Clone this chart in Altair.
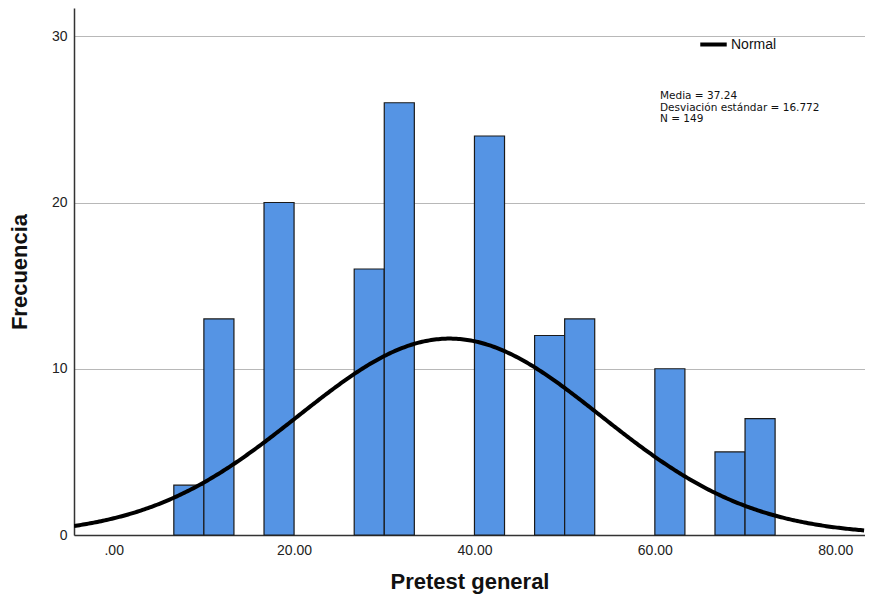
import altair as alt
import pandas as pd

# ---- data ----
bin_lo = [6.667, 10.0, 16.667, 26.667, 30.0, 40.0, 46.667, 50.0, 60.0, 66.667, 70.0]
bin_hi = [10.0, 13.333, 20.0, 30.0, 33.333, 43.333, 50.0, 53.333, 63.333, 70.0, 73.333]
counts = [3, 13, 20, 16, 26, 24, 12, 13, 10, 5, 7]

media = 37.24
desv = 16.772
n_total = 149
bin_width = 10 / 3

x_ticks = [0, 20, 40, 60, 80]
y_ticks = [0, 10, 20, 30]
x_domain = [-4.4, 83.3]
y_domain = [0, 31.7]

FONT = "Liberation Sans"

bars_df = pd.DataFrame({"lo": bin_lo, "hi": bin_hi, "count": counts})

x_scale = alt.Scale(domain=x_domain, nice=False, zero=False)
y_scale = alt.Scale(domain=y_domain, nice=False)

bars = alt.Chart(bars_df).mark_bar(
    color="#5594e4", stroke="#1a1a1a", strokeWidth=1.2, binSpacing=0
).encode(
    x=alt.X("lo:Q", scale=x_scale,
            axis=alt.Axis(values=x_ticks, title="Pretest general", ticks=False,
                          grid=False, labelPadding=8,
                          labelExpr="datum.value == 0 ? '.00' : format(datum.value, '.2f')",
                          titlePadding=14)),
    x2="hi:Q",
    y=alt.Y("count:Q", scale=y_scale,
            axis=alt.Axis(values=y_ticks, title="Frecuencia", ticks=False,
                          grid=True, labelPadding=7, titlePadding=20)),
    y2=alt.datum(0),
)

curve = alt.Chart(alt.sequence(x_domain[0], x_domain[1] + 0.1, 0.2, as_="x")).transform_calculate(
    y=f"{n_total} * {bin_width} / ({desv} * sqrt(2 * PI)) * exp(-0.5 * pow((datum.x - {media}) / {desv}, 2))",
    serie="'Normal'",
).mark_line(strokeWidth=4, clip=True).encode(
    x=alt.X("x:Q", scale=x_scale),
    y=alt.Y("y:Q", scale=y_scale),
    color=alt.Color("serie:N",
                    scale=alt.Scale(domain=["Normal"], range=["black"]),
                    legend=alt.Legend(title=None, orient="none", legendX=624, legendY=21,
                                      symbolType="stroke", symbolStrokeWidth=4,
                                      symbolSize=700, labelFont=FONT, labelFontSize=14,
                                      labelColor="#111", labelOffset=2, padding=0)),
)

stats_df = pd.DataFrame({"t": [f"Media = {media:.2f}\nDesviación estándar = {desv:.3f}\nN = {n_total}"]})
stats = alt.Chart(stats_df).mark_text(
    align="left", baseline="top", font="DejaVu Sans", fontSize=10.5, lineHeight=11.5,
    lineBreak="\n", color="#111"
).encode(x=alt.value(586), y=alt.value(83), text="t:N")

chart = alt.layer(bars, curve, stats).properties(
    width=791, height=527, padding={"left": 0, "top": 0, "right": 0, "bottom": 5}
).configure_view(stroke=None).configure_axis(
    labelFont=FONT, labelFontSize=14, labelColor="#222",
    titleFont=FONT, titleFontSize=22, titleFontWeight="bold", titleColor="#111",
    domainColor="#333", domainWidth=1.5, gridColor="#b8b8b8", gridWidth=1,
)

chart.save("out.html", embed_options={"renderer": "svg", "actions": False})
